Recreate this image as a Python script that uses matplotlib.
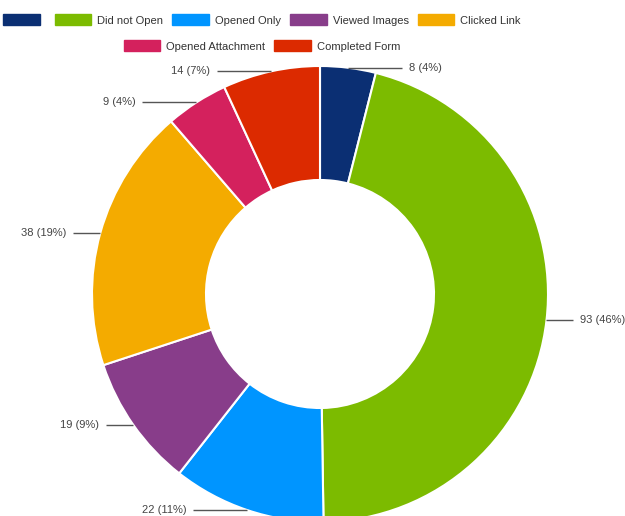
import numpy as np
import matplotlib
matplotlib.use("Agg")
import matplotlib.patches as mp
from matplotlib import pyplot as plt

plt.rcParams["font.family"] = ["Liberation Sans", "DejaVu Sans"]

LABELS = ["", "Did not Open", "Opened Only", "Viewed Images", "Clicked Link",
          "Opened Attachment", "Completed Form"]
VALUES = [8, 93, 22, 19, 38, 9, 14]
COLORS = ["#0b2f73", "#7cbb00", "#0095ff", "#883d8a", "#f4ab00", "#d4215d", "#dc2a00"]

W, H = 625, 516
fig = plt.figure(figsize=(W / 100, H / 100), dpi=100)
ax = fig.add_axes([0, 0, 1, 1])

cx, cy, R = 320, H - 294, 228
wedges, _ = ax.pie(VALUES, colors=COLORS, startangle=90, counterclock=False,
                   radius=R, center=(cx, cy),
                   wedgeprops=dict(width=R * 0.5, edgecolor="white", linewidth=1.5))
ax.set_xlim(0, W)
ax.set_ylim(0, H)
ax.set_aspect("equal")
ax.axis("off")

total = sum(VALUES)
for w, v in zip(wedges, VALUES):
    ang = np.deg2rad((w.theta1 + w.theta2) / 2)
    x0 = cx + R * np.cos(ang)
    y0 = cy + R * np.sin(ang)
    side = 1 if np.cos(ang) >= 0 else -1
    length = 27 if abs(np.cos(ang)) > 0.8 else 54  # short leaders on the sides
    x1 = x0 + side * length
    ax.plot([x0, x1], [y0, y0], color="#555555", lw=1, solid_capstyle="butt")
    ax.text(x1 + side * 7, y0, "%d (%d%%)" % (v, round(100 * v / total)),
            ha="left" if side > 0 else "right", va="center", fontsize=8, color="#444444")

handles = [mp.Patch(color=c, label=l) for c, l in zip(COLORS, LABELS)]
rows = [handles[:5], handles[5:]]
ys = [20, 46]
for row, y in zip(rows, ys):
    leg = fig.legend(handles=row, loc="center", bbox_to_anchor=(262 / W, 1 - y / H),
                     ncol=len(row), frameon=False, fontsize=8, handlelength=3.3,
                     handleheight=1.15, handletextpad=0.55, columnspacing=0.8,
                     borderpad=0, borderaxespad=0)
    for t in leg.get_texts():
        t.set_color("#333333")

fig.savefig("out.png", dpi=100)
